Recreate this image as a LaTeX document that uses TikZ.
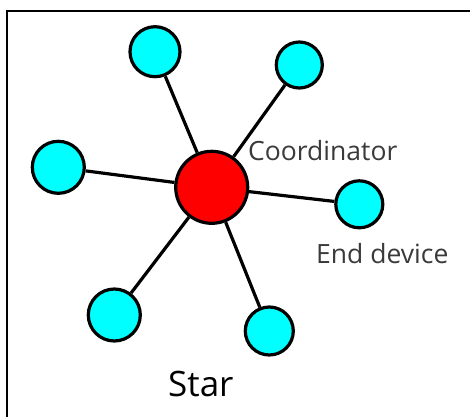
\documentclass[tikz,border=0pt]{standalone}
\usepackage{fontspec}
\setmainfont{Open Sans}
\definecolor{devcyan}{HTML}{00FFFF}
\definecolor{coordred}{HTML}{FF0000}
\definecolor{labelgray}{HTML}{3A3A3A}
\begin{document}
\begin{tikzpicture}[x=1pt,y=-1pt,
  device/.style={circle,draw=black,line width=3.2pt,fill=devcyan,inner sep=0pt,minimum size=#1},
  hub/.style={circle,draw=black,line width=3.2pt,fill=coordred,inner sep=0pt,minimum size=72pt},
  link/.style={line width=3.2pt,black},
  lbl/.style={text=labelgray,font=\fontsize{26.5}{32}\selectfont,inner sep=0pt,anchor=base west}]
  \useasboundingbox (0,0) rectangle (470,416);
  % frame: top and left rules only
  \coordinate (ftl) at (7,11);
  \coordinate (ftr) at (470,11);
  \coordinate (fbl) at (7,416);
  \draw[line width=2.2pt,line cap=rect] (ftr) -- (ftl) -- (fbl);
  % coordinator and end devices
  \node[hub] (c) at (211.7,187.3) {};
  \node[device=50pt] (d1) at (155,51.7) {};
  \node[device=46pt] (d2) at (299.3,65) {};
  \node[device=52pt] (d3) at (58.3,167.3) {};
  \node[device=47pt] (d4) at (359.3,204.3) {};
  \node[device=52pt] (d5) at (114.3,315) {};
  \node[device=48pt] (d6) at (269.3,331) {};
  \foreach \d in {d1,d2,d3,d4,d5,d6}
    \draw[link] (c) -- (\d);
  % labels
  \node[lbl] (lc) at (248,160.7) {Coordinator};
  \node[lbl] (le) at (316,263) {End device};
  \node[font=\fontsize{35}{42}\selectfont,inner sep=0pt,anchor=base west] (ls) at (168,396) {Star};
\end{tikzpicture}
\end{document}
